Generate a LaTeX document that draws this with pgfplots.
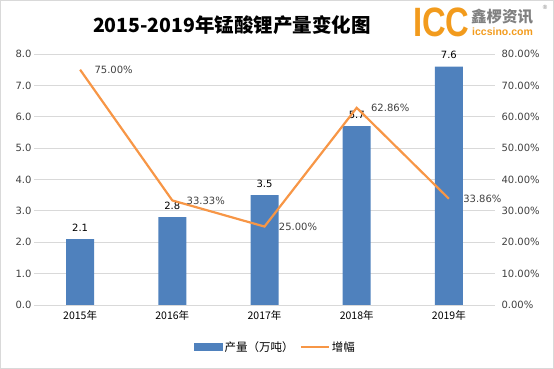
\documentclass[border=0pt]{standalone}
\usepackage{pgfplots}
\pgfplotsset{compat=1.18}
\usepackage{fontspec}
\setmainfont{DejaVu Sans}
\newfontfamily\cjk{Noto Sans CJK SC}
\newfontfamily\lsans{Liberation Sans}
\definecolor{barblue}{HTML}{4F81BD}
\definecolor{lineorange}{HTML}{F79646}
\definecolor{gridgray}{HTML}{D9D9D9}
\definecolor{logoorange}{HTML}{F29B1D}
\definecolor{logogray}{HTML}{808080}
\definecolor{ticktext}{HTML}{404040}
\begin{document}
\begin{tikzpicture}
\path[use as bounding box] (0pt,0pt) rectangle (554pt,369pt);
\draw[gridgray, line width=0.8pt] (0.5pt,0.5pt) rectangle (553.5pt,368.5pt);
% title
\node[font=\cjk\bfseries\fontsize{19.5}{22}\selectfont, anchor=center] at (232pt,344pt) {2015-2019年锰酸锂产量变化图};
% logo
\node[font=\lsans\bfseries\fontsize{41}{41}\selectfont, text=logoorange, anchor=west, xscale=0.8, inner sep=0pt] at (413pt,347pt) {ICC};
\node[font=\cjk\bfseries\fontsize{15.5}{16}\selectfont, text=logogray, anchor=west, inner sep=0pt] at (471pt,352pt) {鑫椤资讯};
\node[font=\lsans\bfseries\fontsize{10.5}{11}\selectfont, text=logoorange, anchor=west, inner sep=0pt] at (472pt,337pt) {iccsino.com};
\node[font=\lsans\fontsize{6}{6}\selectfont, text=logogray, inner sep=0pt] at (545pt,362pt) {\textregistered};
\begin{axis}[
  at={(34pt,64pt)}, anchor=south west,
  scale only axis, width=461pt, height=251pt,
  xmin=-0.5, xmax=4.5, ymin=0, ymax=8,
  xtick={0,1,2,3,4},
  xticklabels={2015年,2016年,2017年,2018年,2019年},
  xticklabel style={font=\cjk\fontsize{10.5}{11}\selectfont, text=black, yshift=-2pt},
  ytick={0,1,...,8},
  yticklabel={\pgfmathprintnumber[fixed,fixed zerofill,precision=1]{\tick}},
  yticklabel style={font=\fontsize{10}{11}\selectfont, text=ticktext, xshift=1pt},
  /pgf/number format/assume math mode=true,
  major tick length=0pt,
  axis x line*=bottom, axis y line*=left,
  axis line style={draw=none},
  ymajorgrids, grid style={color=gridgray, line width=0.8pt},
  ybar, bar width=28pt,
  nodes near coords,
  nodes near coords style={font=\fontsize{10}{11}\selectfont, text=black, yshift=4pt},
  every node near coord/.append style={/pgf/number format/fixed, /pgf/number format/fixed zerofill, /pgf/number format/precision=1},
]
\addplot[fill=barblue, draw=none] coordinates {(0,2.1) (1,2.8) (2,3.5) (3,5.7) (4,7.6)};
\end{axis}
\begin{axis}[
  at={(34pt,64pt)}, anchor=south west,
  scale only axis, width=461pt, height=251pt,
  xmin=-0.5, xmax=4.5, ymin=0, ymax=80,
  axis x line=none, axis y line*=right,
  axis line style={draw=none},
  major tick length=0pt,
  ytick={0,10,...,80},
  yticklabel={\pgfmathprintnumber[fixed,fixed zerofill,precision=2]{\tick}\%},
  yticklabel style={font=\fontsize{10}{11}\selectfont, text=ticktext, xshift=3pt},
  /pgf/number format/assume math mode=true,
  legend style={at={(0.524,-0.167)}, anchor=center, draw=none, fill=none,
    legend columns=2, font=\cjk\fontsize{11.5}{12}\selectfont, text=black,
    /tikz/every even column/.append style={column sep=4pt},
    /tikz/every odd column/.append style={column sep=0pt}},
  legend cell align=left,
]
\addlegendimage{legend image code/.code={\fill[barblue] (0pt,-3.5pt) rectangle (28pt,3.5pt);}}
\addlegendentry{产量（万吨）}
\addplot[color=lineorange, line width=2.2pt, mark=none,
  legend image code/.code={\draw[lineorange, line width=2.2pt] (0pt,0pt) -- (28pt,0pt);},
  nodes near coords={\pgfmathprintnumber[fixed,fixed zerofill,precision=2]{\pgfplotspointmeta}\%},
  nodes near coords style={font=\fontsize{10}{11}\selectfont, text=ticktext, anchor=west, xshift=10pt},
  /pgf/number format/assume math mode=true,
] coordinates {(0,75.00) (1,33.33) (2,25.00) (3,62.86) (4,33.86)};
\addlegendentry{增幅}
\end{axis}
\end{tikzpicture}
\end{document}
